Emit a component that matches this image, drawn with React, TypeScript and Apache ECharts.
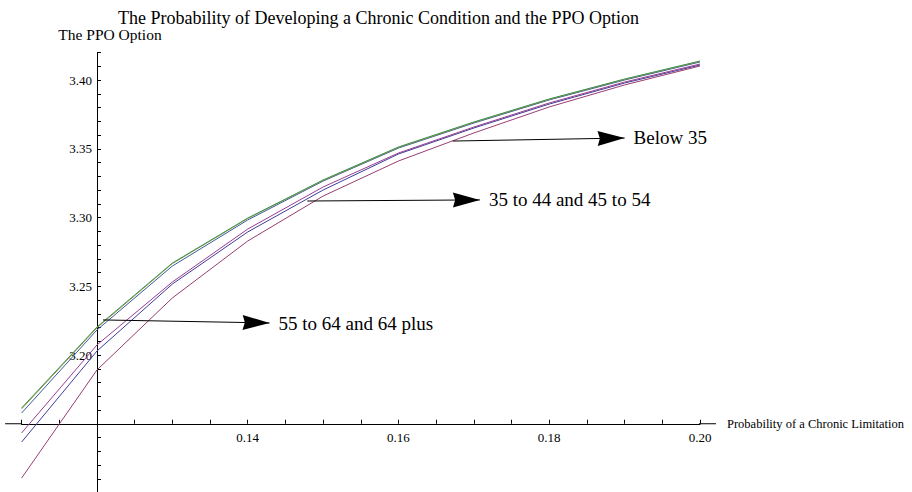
import React, { useEffect, useRef } from "react";
import * as echarts from "echarts";

// ---- data ----
const X_VALUES = [0.11, 0.12, 0.13, 0.14, 0.15, 0.16, 0.17, 0.18, 0.19, 0.2];
const GREEN_LINE = [3.1615, 3.2204, 3.2669, 3.2996, 3.3273, 3.3513, 3.3695, 3.3862, 3.4007, 3.4138];
const YELLOW_LINE = [3.1608, 3.2198, 3.2665, 3.2993, 3.327, 3.351, 3.3692, 3.386, 3.4005, 3.4136];
const LIGHT_BLUE_LINE = [3.1578, 3.2182, 3.2647, 3.2982, 3.3265, 3.3505, 3.3687, 3.3855, 3.4, 3.4131];
const PURPLE_LINE = [3.1433, 3.2073, 3.2531, 3.2916, 3.3222, 3.3469, 3.3658, 3.3833, 3.3985, 3.4116];
const DARK_BLUE_LINE = [3.1367, 3.2029, 3.2516, 3.2895, 3.32, 3.3462, 3.3651, 3.3825, 3.3978, 3.4109];
const MAGENTA_LINE = [3.1105, 3.1891, 3.2415, 3.2829, 3.3156, 3.3411, 3.3615, 3.3804, 3.3964, 3.4102];

// axes cross at this point (Mathematica-style axes origin)
const ORIGIN_X = 0.12;
const ORIGIN_Y = 3.15;

// annotation arrows (data coordinates; "to" is the arrow tip)
const ANNOTATION_TEXTS = ["Below 35", "35 to 44 and 45 to 54", "55 to 64 and 64 plus"];
const ANNOTATION_FROM_X = [0.1672, 0.1479, 0.1208];
const ANNOTATION_FROM_Y = [3.3556, 3.312, 3.2255];
const ANNOTATION_TO_X = [0.19, 0.1708, 0.1429];
const ANNOTATION_TO_Y = [3.3578, 3.3128, 3.2233];

const TITLE = "The Probability of Developing a Chronic Condition and the PPO Option";
const X_NAME = "Probability of a Chronic Limitation";
const Y_NAME = "The PPO Option";

const FONT = "'Liberation Serif', 'Times New Roman', serif";
const ARROW_HEAD = "path://M5,0L10,30L5,27.5L0,30Z";

const SERIES_DEFS = [
  { name: "Dark blue", color: "#3F3D99", values: DARK_BLUE_LINE },
  { name: "Magenta", color: "#993D71", values: MAGENTA_LINE },
  { name: "Purple", color: "#993D8F", values: PURPLE_LINE },
  { name: "Light blue", color: "#3D5A99", values: LIGHT_BLUE_LINE },
  { name: "Yellow", color: "#998C3D", values: YELLOW_LINE },
  { name: "Green", color: "#3D9956", values: GREEN_LINE },
];

// axis extents in shifted (origin-relative) units
const X_MIN = -0.01;
const X_MAX = 0.08;
const Y_MIN = -0.05;
const Y_MAX = 0.27;

const W = 912;
const H = 492;
const GRID = { left: 21.6, right: 212, top: 52.5, bottom: -0.5 };

export default function App() {
  const ref = useRef<HTMLDivElement>(null);

  useEffect(() => {
    if (!ref.current) return;
    const chart = echarts.init(ref.current, null, { renderer: "svg" });

    const gridW = W - GRID.left - GRID.right;
    const gridH = H - GRID.top - GRID.bottom;
    // move the axes so that they cross at the origin
    const yAxisOffset = -((0 - X_MIN) / (X_MAX - X_MIN)) * gridW;
    const xAxisOffset = -((0 - Y_MIN) / (Y_MAX - Y_MIN)) * gridH;

    const series: any[] = SERIES_DEFS.map((s) => ({
      name: s.name,
      type: "line",
      showSymbol: false,
      symbol: "none",
      silent: true,
      lineStyle: { color: s.color, width: 1 },
      itemStyle: { color: s.color },
      data: X_VALUES.map((x, i) => [x - ORIGIN_X, s.values[i] - ORIGIN_Y]),
    }));

    series[series.length - 1].markLine = {
      silent: true,
      animation: false,
      symbol: ["none", ARROW_HEAD],
      symbolSize: 15,
      lineStyle: { color: "#000", width: 1, type: "solid" },
      itemStyle: { color: "#000" },
      emphasis: { disabled: true },
      label: {
        show: true,
        position: "end",
        distance: 9,
        formatter: "{b}",
        color: "#000",
        fontFamily: FONT,
        fontSize: 19,
      },
      data: ANNOTATION_TEXTS.map((t, i) => [
        {
          name: t,
          symbol: "none",
          coord: [ANNOTATION_FROM_X[i] - ORIGIN_X, ANNOTATION_FROM_Y[i] - ORIGIN_Y],
        },
        {
          symbol: ARROW_HEAD,
          symbolSize: [15, 27],
          symbolOffset: [0, "50%"],
          symbolKeepAspect: false,
          coord: [ANNOTATION_TO_X[i] - ORIGIN_X, ANNOTATION_TO_Y[i] - ORIGIN_Y],
        },
      ]),
    };

    chart.setOption({
      animation: false,
      backgroundColor: "#fff",
      title: {
        text: TITLE,
        left: 113,
        top: 4,
        textStyle: { fontFamily: FONT, fontSize: 18, fontWeight: "normal", color: "#000" },
      },
      grid: { ...GRID, outerBoundsMode: "none" },
      xAxis: {
        type: "value",
        min: X_MIN,
        max: X_MAX,
        interval: 0.005,
        offset: xAxisOffset,
        name: X_NAME,
        nameLocation: "end",
        nameGap: 27,
        nameTextStyle: { fontFamily: FONT, fontSize: 12.5, color: "#000" },
        axisLine: {
          onZero: false,
          lineStyle: { color: "#000", width: 1 },
          symbol: ["rect", "rect"],
          symbolSize: [1, 17],
          symbolOffset: [-8, 7.5],
        },
        axisTick: { show: true, inside: true, length: 4, lineStyle: { color: "#000" } },
        axisLabel: {
          margin: 7,
          fontFamily: FONT,
          fontSize: 13,
          color: "#000",
          formatter: (v: number) => {
            const k = Math.round(v * 1000);
            if (k <= 0 || k % 20 !== 0) return "";
            return (v + ORIGIN_X).toFixed(2);
          },
        },
        splitLine: { show: false },
      },
      yAxis: {
        type: "value",
        min: Y_MIN,
        max: Y_MAX,
        interval: 0.01,
        offset: yAxisOffset,
        name: Y_NAME,
        nameLocation: "end",
        nameGap: 10,
        nameTextStyle: {
          fontFamily: FONT,
          fontSize: 15.5,
          color: "#000",
          align: "center",
          padding: [0, 0, 0, 26],
        },
        axisLine: { onZero: false, lineStyle: { color: "#000", width: 1 } },
        axisTick: { show: true, inside: true, length: 4, lineStyle: { color: "#000" } },
        axisLabel: {
          margin: 5,
          fontFamily: FONT,
          fontSize: 13,
          color: "#000",
          formatter: (v: number) => {
            const k = Math.round(v * 100);
            if (k <= 0 || k % 5 !== 0) return "";
            return (v + ORIGIN_Y).toFixed(2);
          },
        },
        splitLine: { show: false },
      },
      series,
    });

    return () => chart.dispose();
  }, []);

  return (
    <div
      ref={ref}
      style={{ position: "absolute", left: 0, top: 0, width: W, height: H }}
    />
  );
}
